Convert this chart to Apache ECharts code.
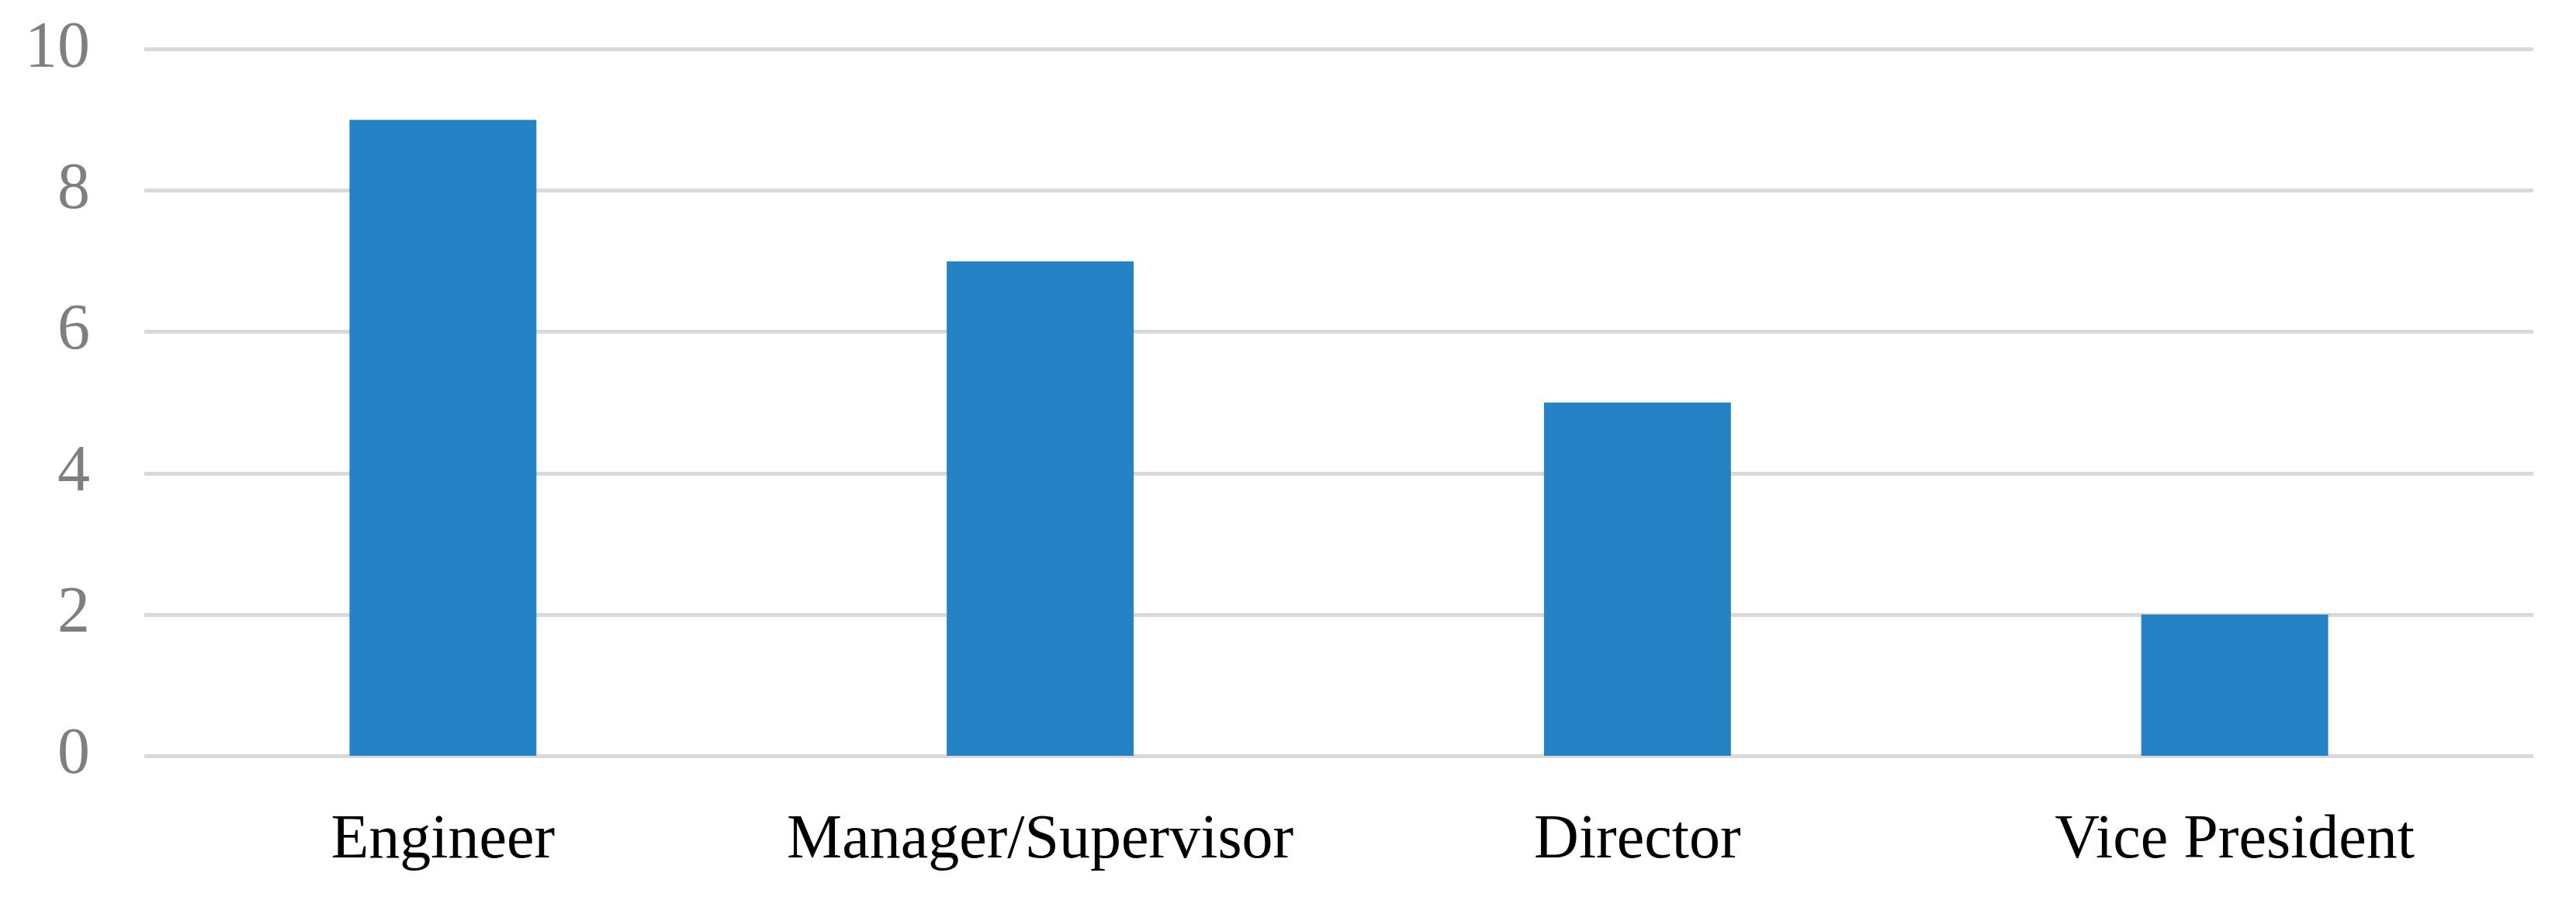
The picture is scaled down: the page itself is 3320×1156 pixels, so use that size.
<!DOCTYPE html>
<html>
<head>
<meta charset="utf-8">
<script src="https://cdn.jsdelivr.net/npm/echarts@6/dist/echarts.min.js"></script>
<style>
  html, body { margin: 0; padding: 0; background: #fff; }
  #main { width: 3320px; height: 1156px; }
</style>
</head>
<body>
<div id="main"></div>
<script>
// 数据
var categories = ["Engineer", "Manager/Supervisor", "Director", "Vice President"];
var counts = [9, 7, 5, 2];
var yTicks = [0, 2, 4, 6, 8, 10];

var myChart = echarts.init(document.getElementById("main"));

myChart.setOption({
  animation: false,
  grid: {
    left: 186,
    right: 55,
    top: 63.5,
    bottom: 182,
  },
  xAxis: {
    type: "category",
    data: categories,
    axisLine: { show: false },
    axisTick: { show: false },
    axisLabel: {
      interval: 0,
      color: "#000",
      fontFamily: "Liberation Serif",
      fontSize: 80,
      margin: 70,
    },
  },
  yAxis: {
    type: "value",
    min: yTicks[0],
    max: yTicks[yTicks.length - 1],
    interval: 2,
    axisLine: { show: false },
    axisTick: { show: false },
    axisLabel: {
      color: "#7f7f7f",
      fontFamily: "Liberation Serif",
      fontSize: 84,
      margin: 70,
    },
    splitLine: {
      lineStyle: { color: "#d9d9d9", width: 5 },
    },
  },
  series: [
    {
      type: "bar",
      data: counts,
      barWidth: "31.3%",
      itemStyle: { color: "#2582c4" },
    },
  ],
});
</script>
</body>
</html>
